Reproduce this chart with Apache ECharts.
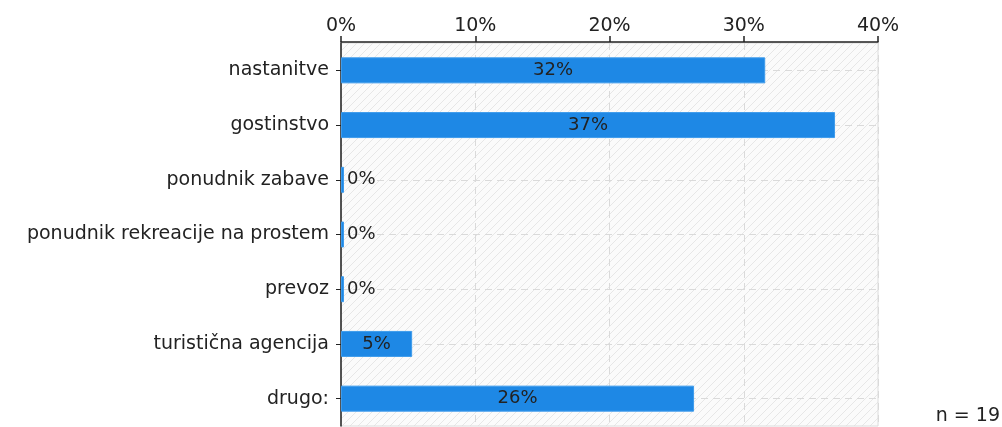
<!DOCTYPE html>
<html>
<head>
<meta charset="utf-8">
<script src="https://cdn.jsdelivr.net/npm/echarts@6/dist/echarts.min.js"></script>
<style>
    html, body { margin: 0; padding: 0; background: #fff; }
    #chart { width: 1002px; height: 427px; }
</style>
</head>
<body>
<div id="chart"></div>
<script>
let categories = [
    'nastanitve',
    'gostinstvo',
    'ponudnik zabave',
    'ponudnik rekreacije na prostem',
    'prevoz',
    'turistična agencija',
    'drugo:'
];
let shares = [31.6, 36.8, 0, 0, 0, 5.3, 26.3];
let tick_values = [0, 10, 20, 30, 40];
let sample_note = 'n = 19';

const FONT = 'DejaVu Sans';
const TEXT_COLOR = '#222';
const BAR_COLOR = '#1e88e5';

// diagonal hatch for the plot background
function hatch_pattern() {
    let c = document.createElement('canvas');
    c.width = 8;
    c.height = 8;
    let ctx = c.getContext('2d');
    ctx.fillStyle = '#fbfbfb';
    ctx.fillRect(0, 0, 8, 8);
    ctx.strokeStyle = '#e7e7e7';
    ctx.lineWidth = 1;
    ctx.beginPath();
    ctx.moveTo(0, 8);
    ctx.lineTo(8, 0);
    ctx.moveTo(-4, 4);
    ctx.lineTo(4, -4);
    ctx.moveTo(4, 12);
    ctx.lineTo(12, 4);
    ctx.stroke();
    return c;
}

let chart = echarts.init(document.getElementById('chart'));

let bar_data = shares.map(function (v) {
    return {
        value: v,
        label: v > 0
            ? {position: 'inside'}
            : {position: 'right', distance: 3}
    };
});

chart.setOption({
    animation: false,
    textStyle: {fontFamily: FONT},
    grid: {
        left: 341,
        right: 124,
        top: 43,
        bottom: 1,
        show: true,
        backgroundColor: {image: hatch_pattern(), repeat: 'repeat'},
        borderColor: '#dcdcdc',
        borderWidth: 1
    },
    xAxis: {
        type: 'value',
        position: 'top',
        offset: 1,
        min: tick_values[0],
        max: tick_values[tick_values.length - 1],
        interval: 10,
        axisLine: {show: true, lineStyle: {color: '#222', width: 1.5}},
        axisTick: {show: true, length: 6, lineStyle: {color: '#222', width: 1.5}},
        axisLabel: {
            color: TEXT_COLOR,
            fontSize: 19,
            fontFamily: FONT,
            margin: 6,
            formatter: '{value}%'
        },
        splitLine: {show: true, lineStyle: {color: '#dadada', type: [7, 5]}}
    },
    yAxis: {
        type: 'category',
        inverse: true,
        data: categories,
        axisLine: {show: true, lineStyle: {color: '#222', width: 1.5}},
        axisTick: {show: true, alignWithLabel: true, length: 5, lineStyle: {color: '#222'}},
        axisLabel: {color: TEXT_COLOR, fontSize: 19, fontFamily: FONT, margin: 12},
        splitLine: {show: false}
    },
    series: [
        {
            // dashed guide lines through category centres, kept behind the bars
            type: 'line',
            data: [],
            silent: true,
            markLine: {
                silent: true,
                z: 1,
                symbol: 'none',
                label: {show: false},
                lineStyle: {color: '#dadada', type: [7, 5], width: 1},
                data: categories.map(function (c) { return {yAxis: c}; })
            }
        },
        {
            type: 'bar',
            z: 3,
            data: bar_data,
            barWidth: 26,
            barMinHeight: 3,
            itemStyle: {color: BAR_COLOR, borderColor: '#3d9bec', borderWidth: 1},
            label: {
                show: true,
                color: TEXT_COLOR,
                fontSize: 18,
                fontFamily: FONT,
                formatter: function (p) { return Math.round(p.value) + '%'; }
            }
        }
    ],
    graphic: [
        {
            type: 'text',
            right: 2,
            bottom: 1,
            style: {text: sample_note, fill: TEXT_COLOR, font: '19px ' + FONT}
        }
    ]
});

window.addEventListener('resize', function () {
    chart.resize();
});
</script>
</body>
</html>
